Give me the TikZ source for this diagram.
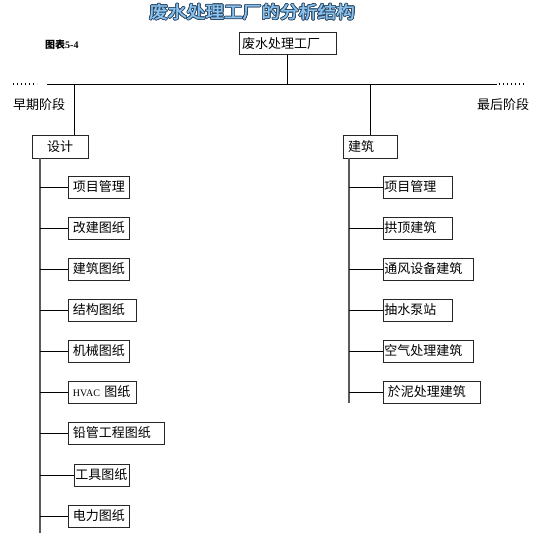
\documentclass[tikz,border=0pt]{standalone}
\usepackage{fontspec}
\usepackage{xcolor}
\usepackage{contour}
\setmainfont{Liberation Serif}
\newfontfamily\cjk{Noto Sans CJK SC}
\newfontfamily\cjktitle[FakeBold=1.5,FakeStretch=1.1]{Noto Sans CJK SC}
\definecolor{titleblue}{HTML}{8CC4F0}
\definecolor{titleedge}{HTML}{2E4A66}
\definecolor{spinegray}{HTML}{5A5A5A}
\contourlength{0.8pt}
\tikzset{
  box/.style={rectangle, draw=black!85, line width=0.8pt, fill=white, anchor=west, minimum height=22pt, inner ysep=0pt, inner xsep=4.5pt, align=left, font=\cjk\fontsize{13}{14}\selectfont},
  flush/.style={box, inner xsep=1pt},
  spine/.style={draw=spinegray, line width=1.6pt},
  link/.style={draw=black, line width=0.8pt},
  stage/.style={anchor=west, inner sep=0pt, font=\cjk\fontsize{13}{14}\selectfont},
}

\begin{document}
\begin{tikzpicture}[x=1pt, y=-1pt]
\useasboundingbox (0,0) rectangle (540,540);

\node[inner sep=0pt, font=\cjktitle\fontsize{17}{18}\selectfont] (title) at (252,12) {\textcolor{titleblue}{\contour{titleedge}{废水处理工厂的分析结构}}};
\node[anchor=west, inner sep=0pt, font=\fontsize{10}{12}\selectfont\bfseries] (fig) at (45,45) {{\cjk 图表}5-4};

\node[box, anchor=center, text width=91pt, inner xsep=3pt] (plant) at (287.5,43.5) {废水处理工厂};

% main bar
\coordinate (mainL) at (47,84);
\coordinate (mainR) at (497,84);
\coordinate (dotLa) at (13,84);
\coordinate (dotLb) at (37,84);
\coordinate (dotRa) at (499,84);
\coordinate (dotRb) at (524,84);
\coordinate (dropL) at (74,84);
\coordinate (dropR) at (370,84);
\draw[link] (mainL) -- (mainR);
\draw[draw=black, line width=1.2pt, dash pattern=on 1.4pt off 2.6pt] (dotLa) -- (dotLb);
\draw[draw=black, line width=1.2pt, dash pattern=on 1.4pt off 2.6pt] (dotRa) -- (dotRb);
\draw[link] (plant.south) -- (plant.south |- mainL);

\node[stage] (early) at (13,105) {早期阶段};
\node[stage] (late) at (477,105) {最后阶段};

\node[box, anchor=center, minimum width=56pt, minimum height=23pt, align=center] (design) at (60,146.5) {设计};
\node[box, anchor=center, minimum height=23pt, text width=44pt, inner xsep=5pt] (build) at (370,146.5) {建筑};
\draw[link] (dropL) -- (dropL |- design.north);
\draw[link] (dropR) -- (dropR |- build.north);

% design side
\coordinate (spineL) at (40,158);
\coordinate (spineLend) at (40,533);
\draw[spine] (spineL) -- (spineLend);
\node[box, text width=52pt] (dPm) at (68,187) {项目管理};
\node[box, text width=52pt] (dRework) at (68,228) {改建图纸};
\node[box, text width=52pt] (dArch) at (68,269) {建筑图纸};
\node[box, text width=59pt] (dStruct) at (68,310) {结构图纸};
\node[box, text width=52pt] (dMech) at (68,351) {机械图纸};
\node[box, text width=59pt] (dHvac) at (68,392) {{\rmfamily\fontsize{10}{12}\selectfont HVAC} 图纸};
\node[box, text width=87pt] (dPlumb) at (68,433) {铅管工程图纸};
\node[flush, text width=53pt] (dTool) at (74,475) {工具图纸};
\node[box, text width=52pt] (dPower) at (68,516) {电力图纸};
\draw[link] (spineL |- dPm.west) -- (dPm.west);
\draw[link] (spineL |- dRework.west) -- (dRework.west);
\draw[link] (spineL |- dArch.west) -- (dArch.west);
\draw[link] (spineL |- dStruct.west) -- (dStruct.west);
\draw[link] (spineL |- dMech.west) -- (dMech.west);
\draw[link] (spineL |- dHvac.west) -- (dHvac.west);
\draw[link] (spineL |- dPlumb.west) -- (dPlumb.west);
\draw[link] (spineL |- dTool.west) -- (dTool.west);
\draw[link] (spineL |- dPower.west) -- (dPower.west);

% build side
\coordinate (spineR) at (349,158);
\coordinate (spineRend) at (349,403);
\draw[spine] (spineR) -- (spineRend);
\node[flush, text width=67pt] (bPm) at (383,187) {项目管理};
\node[flush, text width=67pt] (bVault) at (383,228) {拱顶建筑};
\node[flush, text width=88pt] (bVent) at (383,269) {通风设备建筑};
\node[flush, text width=67pt] (bPump) at (383,310) {抽水泵站};
\node[flush, text width=88pt] (bAir) at (383,351) {空气处理建筑};
\node[box, text width=88pt] (bSludge) at (383,392) {於泥处理建筑};
\draw[link] (spineR |- bPm.west) -- (bPm.west);
\draw[link] (spineR |- bVault.west) -- (bVault.west);
\draw[link] (spineR |- bVent.west) -- (bVent.west);
\draw[link] (spineR |- bPump.west) -- (bPump.west);
\draw[link] (spineR |- bAir.west) -- (bAir.west);
\draw[link] (spineR |- bSludge.west) -- (bSludge.west);
\end{tikzpicture}
\end{document}
